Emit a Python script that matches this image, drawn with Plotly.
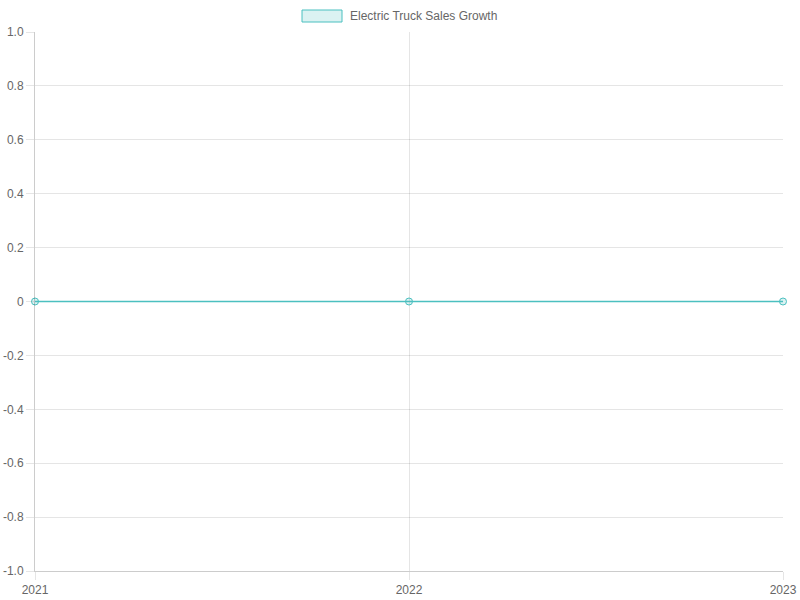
import plotly.graph_objects as go

# chart data
years = ["2021", "2022", "2023"]
growth = [0, 0, 0]
y_ticks = [1.0, 0.8, 0.6, 0.4, 0.2, 0, -0.2, -0.4, -0.6, -0.8, -1.0]
y_tick_labels = ["1.0", "0.8", "0.6", "0.4", "0.2", "0", "-0.2", "-0.4", "-0.6", "-0.8", "-1.0"]
series_name = "Electric Truck Sales Growth"

teal = "rgb(75,192,192)"
teal_fill = "rgba(75,192,192,0.2)"
grid = "rgba(0,0,0,0.1)"

# plot area in pixels (Chart.js layout of the original)
W, H = 800, 600
L, R, T, B = 35, 17, 32, 29
pw, ph = W - L - R, H - T - B


def px_x(x):
    return (x - L) / pw


def px_y(y):
    return (H - B - y) / ph


fig = go.Figure()
fig.add_trace(go.Scatter(
    x=years, y=growth, mode="lines+markers", name=series_name, showlegend=False,
    cliponaxis=False,
    line=dict(color=teal, width=1.5),
    marker=dict(size=7, color=teal_fill, line=dict(color=teal, width=1)),
))

# legend drawn by hand: box + label at the top, like Chart.js
fig.add_shape(type="rect", xref="paper", yref="paper",
              x0=px_x(302), x1=px_x(342), y0=px_y(22), y1=px_y(10),
              fillcolor=teal_fill, line=dict(color=teal, width=1))
fig.add_annotation(text=series_name, xref="paper", yref="paper",
                   x=px_x(348), y=px_y(16), xanchor="left", yanchor="middle",
                   showarrow=False, font=dict(size=12, color="#666"))

fig.update_layout(
    width=W, height=H,
    margin=dict(l=L, r=R, t=T, b=B, autoexpand=False),
    paper_bgcolor="white", plot_bgcolor="white",
    font=dict(family="Liberation Sans, Arial, sans-serif", size=12, color="#666"),
    showlegend=False,
)
fig.update_xaxes(
    type="category", range=[0, 2], showgrid=True, gridcolor=grid,
    showline=True, linecolor="rgba(0,0,0,0.2)", zeroline=False,
    ticks="outside", ticklen=8, tickcolor=grid, automargin=False,
    tickfont=dict(color="#666"),
)
fig.update_yaxes(
    range=[-1, 1], tickvals=y_ticks, ticktext=y_tick_labels,
    showgrid=True, gridcolor=grid, zeroline=False,
    showline=True, linecolor="rgba(0,0,0,0.2)",
    ticks="outside", ticklen=8, tickcolor=grid, automargin=False,
    tickfont=dict(color="#666"),
)

# page body has a default 8px margin; drop it so the chart sits at 0,0
fig.write_html("out.html", config={"displayModeBar": False},
               post_script="document.body.style.margin='0';")
